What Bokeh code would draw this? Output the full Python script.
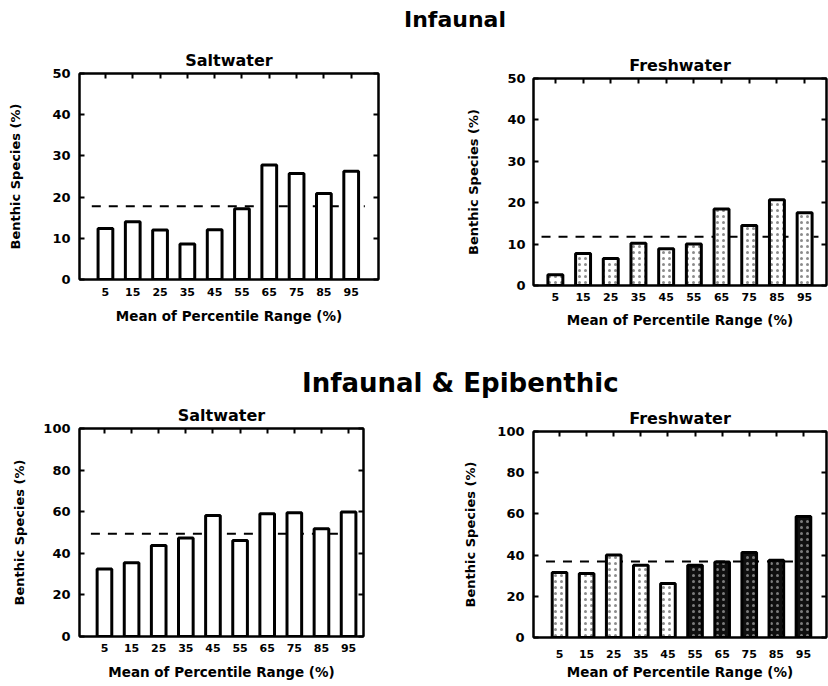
from bokeh.plotting import figure
from bokeh.layouts import column, row
from bokeh.models import Div, Range1d, FixedTicker, LinearAxis, CustomJSTickFormatter, Spacer
from bokeh.embed import file_html
from bokeh.resources import INLINE

# ---------------- data ----------------
percentile_means = [5, 15, 25, 35, 45, 55, 65, 75, 85, 95]

infaunal_saltwater = [12.4, 14.0, 12.0, 8.6, 12.1, 17.2, 27.8, 25.7, 20.9, 26.3]
infaunal_freshwater = [2.6, 7.7, 6.5, 10.2, 8.9, 10.0, 18.5, 14.5, 20.7, 17.6]
combined_saltwater = [32.5, 35.4, 43.7, 47.4, 58.2, 46.1, 59.0, 59.5, 51.8, 59.8]
combined_freshwater = [31.6, 31.1, 40.0, 35.1, 26.2, 35.1, 36.7, 41.3, 37.5, 58.7]

infaunal_saltwater_mean = 17.8
infaunal_freshwater_mean = 11.8
combined_saltwater_mean = 49.4
combined_freshwater_mean = 36.9
mean_line_extent = [0, 100]

yticks_infaunal = [0, 10, 20, 30, 40, 50]
yticks_combined = [0, 20, 40, 60, 80, 100]

FONT = "DejaVu Sans"


def hidden_label_axis(ticks):
    return LinearAxis(ticker=FixedTicker(ticks=ticks),
                      formatter=CustomJSTickFormatter(code="return ''"),
                      major_tick_in=5, major_tick_out=0,
                      minor_tick_in=0, minor_tick_out=0,
                      major_label_standoff=0,
                      major_label_text_font_size="1px",
                      axis_line_width=2, major_tick_line_width=2)


def panel(title, values, mean, yticks, xr, width, height, bl, br, bt, bb,
          title_offset, title_standoff, ytick_standoff, ylabel_standoff,
          xtick_standoff, xlabel_standoff, stipple=False, dark_from=None):
    p = figure(width=width, height=height, title=title,
               x_range=Range1d(*xr), y_range=Range1d(yticks[0], yticks[-1]),
               output_backend="svg", toolbar_location=None,
               min_border_left=bl, min_border_right=br,
               min_border_top=bt, min_border_bottom=bb)
    p.title.align = "center"
    p.title.text_font = FONT
    p.title.text_font_size = "16px"
    p.title.text_font_style = "bold"
    p.title.text_color = "black"
    p.title.offset = title_offset
    p.title.standoff = title_standoff
    p.grid.visible = False
    p.outline_line_color = "black"
    p.outline_line_width = 2
    p.background_fill_color = "white"
    p.border_fill_color = None

    xa = p.xaxis[0]
    xa.ticker = FixedTicker(ticks=percentile_means)
    xa.axis_label = "Mean of Percentile Range (%)"
    xa.major_tick_in = 0
    xa.major_tick_out = 0
    xa.minor_tick_in = 0
    xa.minor_tick_out = 0
    xa.axis_line_width = 2
    xa.major_label_standoff = xtick_standoff
    xa.axis_label_standoff = xlabel_standoff
    xa.major_label_text_font = FONT
    xa.major_label_text_font_style = "bold"
    xa.major_label_text_font_size = "11px"
    xa.major_label_text_color = "black"
    xa.axis_label_text_font = FONT
    xa.axis_label_text_font_style = "bold"
    xa.axis_label_text_font_size = "13.5px"
    xa.axis_label_text_color = "black"

    ya = p.yaxis[0]
    ya.ticker = FixedTicker(ticks=yticks)
    ya.axis_label = "Benthic Species (%)"
    ya.major_tick_in = 5
    ya.major_tick_out = 0
    ya.minor_tick_in = 0
    ya.minor_tick_out = 0
    ya.axis_line_width = 2
    ya.major_tick_line_width = 2
    ya.major_label_standoff = ytick_standoff
    ya.axis_label_standoff = ylabel_standoff
    ya.major_label_text_font = FONT
    ya.major_label_text_font_style = "bold"
    ya.major_label_text_font_size = "13px"
    ya.major_label_text_color = "black"
    ya.axis_label_text_font = FONT
    ya.axis_label_text_font_style = "bold"
    ya.axis_label_text_font_size = "13px"
    ya.axis_label_text_color = "black"

    p.add_layout(hidden_label_axis(percentile_means), "above")
    p.add_layout(hidden_label_axis(yticks), "right")

    p.line(mean_line_extent, [mean, mean], line_color="black",
           line_width=2, line_dash="9 8")

    fills = []
    for i, _ in enumerate(values):
        fills.append("#101010" if (dark_from is not None and i >= dark_from) else "white")
    hatch_colors = ["white" if f != "white" else "black" for f in fills]
    kw = {}
    if stipple:
        kw = dict(hatch_pattern="dot", hatch_scale=6, hatch_weight=1.2,
                  hatch_alpha=0.45, hatch_color=hatch_colors)
    p.vbar(x=percentile_means, top=values, bottom=0, width=5.4,
           fill_color=fills, line_color="black", line_width=3, **kw)
    return p


# row 1 starts at y=28, row 2 at y=384 (page origin is the top-left corner)
p1 = panel("Saltwater", infaunal_saltwater, infaunal_saltwater_mean, yticks_infaunal,
           (-4.5, 105), 414, 304, 79, 36, 45, 53, -3, 8, 9, 26, 8, 9)
p2 = panel("Freshwater", infaunal_freshwater, infaunal_freshwater_mean, yticks_infaunal,
           (-2.9, 102.9), 414, 299, 119, 2, 45, 47, 5, 8, 8, 23, 7, 8, stipple=True)
p3 = panel("Saltwater", combined_saltwater, combined_saltwater_mean, yticks_combined,
           (-4.2, 100.5), 414, 300, 79, 51, 45, 47, 4, 8, 9, 13, 7, 9)
p4 = panel("Freshwater", combined_freshwater, combined_freshwater_mean, yticks_combined,
           (-4.6, 103.5), 414, 297, 119, 2, 45, 46, 5, 7, 9, 16, 12, 3,
           stipple=True, dark_from=5)

title_style = ("font-family:'DejaVu Sans';font-weight:bold;line-height:14px;"
               "white-space:nowrap;color:black;")
d1 = Div(text=f"<div style=\"{title_style}font-size:22px;padding-left:404px;padding-top:13px;\">Infaunal</div>",
         width=828, height=28, margin=0)
d2 = Div(text=f"<div style=\"{title_style}font-size:26px;padding-left:302px;padding-top:44px;\">Infaunal &amp; Epibenthic</div>",
         width=828, height=66, margin=(0, 0, -15, 0))

row1 = row(p1, column(Spacer(width=414, height=5), p2, spacing=0), spacing=0)
row2 = row(p3, column(Spacer(width=414, height=3), p4, spacing=0), spacing=0)
layout = column(d1, row1, d2, row2, spacing=0)

with open("out.html", "w") as f:
    f.write(file_html(layout, INLINE))
